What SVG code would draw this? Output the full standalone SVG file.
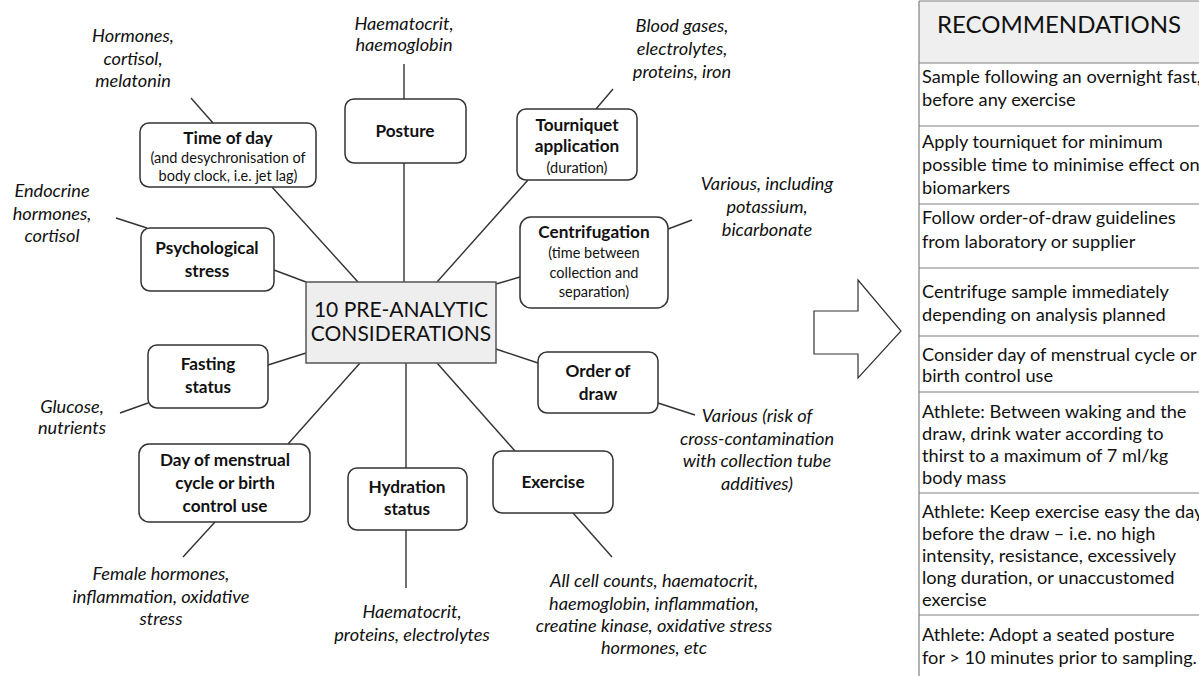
<svg xmlns="http://www.w3.org/2000/svg" width="1199" height="676" viewBox="0 0 1199 676">
  <style>
    .node { fill: #ffffff; stroke: #333333; stroke-width: 1.5; }
    .hub { fill: #eeeeee; stroke: #555555; stroke-width: 1.5; }
    .link { stroke: #333333; stroke-width: 1.4; fill: none; }
    .t { font-family: Lato, "Liberation Sans", sans-serif; fill: #111111; text-anchor: middle; }
    .b { font-weight: bold; font-size: 17.2px; }
    .s { font-size: 14.5px; }
    .n { font-style: italic; font-size: 18.2px; }
    .hubt { font-size: 21px; }
    .rec { font-family: Lato, "Liberation Sans", sans-serif; font-size: 18.2px; fill: #111111; }
    .rule { stroke: #808080; stroke-width: 1.2; }
  </style>

  <rect width="1199" height="676" fill="#ffffff"/>

  <!-- connectors -->
  <g id="connectors" class="link">
    <line x1="191" y1="98" x2="213" y2="123"/>
    <line x1="272" y1="187" x2="358" y2="282"/>
    <line x1="404" y1="64" x2="404" y2="99"/>
    <line x1="404" y1="163" x2="404" y2="282"/>
    <line x1="613" y1="89" x2="596" y2="109"/>
    <line x1="528" y1="180" x2="437" y2="282"/>
    <line x1="692" y1="220" x2="668" y2="229"/>
    <line x1="520" y1="277" x2="496" y2="284"/>
    <line x1="116" y1="218" x2="147" y2="228"/>
    <line x1="274" y1="270" x2="306" y2="282"/>
    <line x1="268" y1="365" x2="306" y2="353"/>
    <line x1="148" y1="403" x2="120" y2="413"/>
    <line x1="496" y1="349" x2="538" y2="363"/>
    <line x1="658" y1="403" x2="695" y2="415"/>
    <line x1="360" y1="363" x2="288" y2="444"/>
    <line x1="215" y1="522" x2="183" y2="557"/>
    <line x1="406" y1="363" x2="406" y2="468"/>
    <line x1="406" y1="530" x2="406" y2="588"/>
    <line x1="437" y1="363" x2="515" y2="451"/>
    <line x1="573" y1="513" x2="612" y2="557"/>
  </g>

  <!-- central hub -->
  <g id="hub">
    <rect class="hub" x="306" y="282" width="190" height="81"/>
    <text class="t hubt" x="401" y="317">10 PRE-ANALYTIC</text>
    <text class="t hubt" x="401" y="341">CONSIDERATIONS</text>
  </g>

  <g id="time-of-day">
    <rect class="node" x="140" y="123" width="176" height="64" rx="9"/>
    <text class="t b" x="228" y="144">Time of day</text>
    <text class="t s" x="228" y="163">(and desychronisation of</text>
    <text class="t s" x="228" y="181">body clock, i.e. jet lag)</text>
  </g>

  <g id="posture">
    <rect class="node" x="345" y="99" width="121" height="64" rx="9"/>
    <text class="t b" x="405" y="137">Posture</text>
  </g>

  <g id="tourniquet">
    <rect class="node" x="517" y="109" width="120" height="71" rx="9"/>
    <text class="t b" x="577" y="131">Tourniquet</text>
    <text class="t b" x="577" y="152">application</text>
    <text class="t s" x="577" y="173">(duration)</text>
  </g>

  <g id="centrifugation">
    <rect class="node" x="520" y="217" width="148" height="91" rx="11"/>
    <text class="t b" x="594" y="238">Centrifugation</text>
    <text class="t s" x="594" y="258">(time between</text>
    <text class="t s" x="594" y="278">collection and</text>
    <text class="t s" x="594" y="297">separation)</text>
  </g>

  <g id="psychological-stress">
    <rect class="node" x="141" y="228" width="133" height="63" rx="9"/>
    <text class="t b" x="207" y="254">Psychological</text>
    <text class="t b" x="207" y="277">stress</text>
  </g>

  <g id="fasting-status">
    <rect class="node" x="148" y="345" width="120" height="63" rx="9"/>
    <text class="t b" x="208" y="370">Fasting</text>
    <text class="t b" x="208" y="393">status</text>
  </g>

  <g id="order-of-draw">
    <rect class="node" x="538" y="352" width="120" height="61" rx="9"/>
    <text class="t b" x="598" y="377">Order of</text>
    <text class="t b" x="598" y="400">draw</text>
  </g>

  <g id="menstrual-cycle">
    <rect class="node" x="139" y="444" width="171" height="78" rx="10"/>
    <text class="t b" x="225" y="466">Day of menstrual</text>
    <text class="t b" x="225" y="489">cycle or birth</text>
    <text class="t b" x="225" y="512">control use</text>
  </g>

  <g id="hydration-status">
    <rect class="node" x="348" y="468" width="119" height="62" rx="9"/>
    <text class="t b" x="407" y="493">Hydration</text>
    <text class="t b" x="407" y="515">status</text>
  </g>

  <g id="exercise">
    <rect class="node" x="493" y="451" width="120" height="62" rx="9"/>
    <text class="t b" x="553" y="488">Exercise</text>
  </g>

  <!-- affected analytes -->
  <g id="analytes">
    <text class="t n" x="133" y="42">Hormones,</text>
    <text class="t n" x="133" y="65">cortisol,</text>
    <text class="t n" x="133" y="87">melatonin</text>

    <text class="t n" x="404" y="30">Haematocrit,</text>
    <text class="t n" x="404" y="51">haemoglobin</text>

    <text class="t n" x="682" y="32">Blood gases,</text>
    <text class="t n" x="682" y="55">electrolytes,</text>
    <text class="t n" x="682" y="78">proteins, iron</text>

    <text class="t n" x="767" y="190">Various, including</text>
    <text class="t n" x="767" y="213">potassium,</text>
    <text class="t n" x="767" y="236">bicarbonate</text>

    <text class="t n" x="52" y="197">Endocrine</text>
    <text class="t n" x="52" y="220">hormones,</text>
    <text class="t n" x="52" y="242">cortisol</text>

    <text class="t n" x="72" y="413">Glucose,</text>
    <text class="t n" x="72" y="434">nutrients</text>

    <text class="t n" x="757" y="422">Various (risk of</text>
    <text class="t n" x="757" y="445">cross-contamination</text>
    <text class="t n" x="757" y="467">with collection tube</text>
    <text class="t n" x="757" y="490">additives)</text>

    <text class="t n" x="161" y="580">Female hormones,</text>
    <text class="t n" x="161" y="603">inflammation, oxidative</text>
    <text class="t n" x="161" y="625">stress</text>

    <text class="t n" x="412" y="618">Haematocrit,</text>
    <text class="t n" x="412" y="641">proteins, electrolytes</text>

    <text class="t n" x="654" y="587">All cell counts, haematocrit,</text>
    <text class="t n" x="654" y="610">haemoglobin, inflammation,</text>
    <text class="t n" x="654" y="632">creatine kinase, oxidative stress</text>
    <text class="t n" x="654" y="654">hormones, etc</text>
  </g>

  <!-- block arrow -->
  <g id="arrow">
    <path d="M814,311 H858 V280 L901,331 L858,378 V354 H814 Z" fill="#ffffff" stroke="#333333" stroke-width="1.2"/>
  </g>

  <!-- recommendations table -->
  <g id="recommendations">
    <rect x="919" y="1" width="290" height="62" fill="#efefef"/>
    <line class="rule" x1="919" y1="1" x2="1199" y2="1"/>
    <line class="rule" x1="919" y1="1" x2="919" y2="676"/>
    <line class="rule" x1="919" y1="63" x2="1199" y2="63"/>
    <line class="rule" x1="919" y1="126" x2="1199" y2="126"/>
    <line class="rule" x1="919" y1="204" x2="1199" y2="204"/>
    <line class="rule" x1="919" y1="268" x2="1199" y2="268"/>
    <line class="rule" x1="919" y1="336" x2="1199" y2="336"/>
    <line class="rule" x1="919" y1="392" x2="1199" y2="392"/>
    <line class="rule" x1="919" y1="493" x2="1199" y2="493"/>
    <line class="rule" x1="919" y1="615" x2="1199" y2="615"/>

    <text class="t" x="1059" y="33" font-size="24">RECOMMENDATIONS</text>

    <text class="rec" x="922" y="83">Sample following an overnight fast,</text>
    <text class="rec" x="922" y="106">before any exercise</text>

    <text class="rec" x="922" y="148">Apply tourniquet for minimum</text>
    <text class="rec" x="922" y="171">possible time to minimise effect on</text>
    <text class="rec" x="922" y="194">biomarkers</text>

    <text class="rec" x="922" y="224">Follow order-of-draw guidelines</text>
    <text class="rec" x="922" y="248">from laboratory or supplier</text>

    <text class="rec" x="922" y="298">Centrifuge sample immediately</text>
    <text class="rec" x="922" y="321">depending on analysis planned</text>

    <text class="rec" x="922" y="361">Consider day of menstrual cycle or</text>
    <text class="rec" x="922" y="382">birth control use</text>

    <text class="rec" x="922" y="418">Athlete:  Between waking and the</text>
    <text class="rec" x="922" y="440">draw, drink water according to</text>
    <text class="rec" x="922" y="462">thirst to a maximum of 7 ml/kg</text>
    <text class="rec" x="922" y="484">body mass</text>

    <text class="rec" x="922" y="518">Athlete: Keep exercise easy the day</text>
    <text class="rec" x="922" y="540">before the draw – i.e. no high</text>
    <text class="rec" x="922" y="562">intensity, resistance, excessively</text>
    <text class="rec" x="922" y="584">long duration, or unaccustomed</text>
    <text class="rec" x="922" y="606">exercise</text>

    <text class="rec" x="922" y="641">Athlete: Adopt a seated posture</text>
    <text class="rec" x="922" y="664">for &gt; 10 minutes prior to sampling.</text>
  </g>
</svg>
